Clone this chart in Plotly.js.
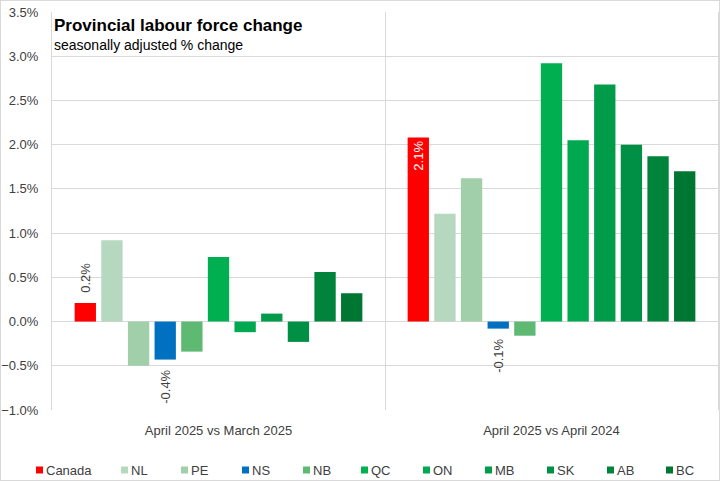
<!DOCTYPE html>
<html><head><meta charset="utf-8">
<script src="https://cdn.plot.ly/plotly-3.0.1.min.js"></script>
<style>html,body{margin:0;padding:0;background:#fff}#chart{width:718px;height:479px;border:1px solid #d9d9d9}</style>
</head><body><div id="chart"></div>
<script>
const categories = ["April 2025 vs March 2025", "April 2025 vs April 2024"];
const series = ["Canada","NL","PE","NS","NB","QC","ON","MB","SK","AB","BC"];
const canada = [0.21, 2.08];
const nl = [0.92, 1.22];
const pe = [-0.50, 1.62];
const ns = [-0.43, -0.08];
const nb = [-0.34, -0.16];
const qc = [0.73, 2.92];
const on = [-0.12, 2.05];
const mb = [0.09, 2.68];
const sk = [-0.23, 2.00];
const ab = [0.56, 1.87];
const bc = [0.32, 1.70];
const seriesValues = [canada, nl, pe, ns, nb, qc, on, mb, sk, ab, bc];

// styling
const colors = ["#FF0000","#B6D8BE","#A1CFAA","#0070C0","#5EBA72",
                "#00B050","#00A84F","#009C4A","#009045","#00843C","#007633"];
const labelPositions = {Canada: ["outside","inside"], NS: ["outside","outside"]};
const legendPx = [36, 121, 181, 242, 303, 361, 423, 485, 547, 607, 666]; // square left edge, image px
const FONT = "Liberation Sans, Arial, sans-serif";
const NB_SP = "\u00a0\u00a0";

const W = 718, H = 479, M = {l: 51, r: 1, t: 11, b: 70};
const PW = W - M.l - M.r, PH = H - M.t - M.b;
const px2x = px => (px - 1 - M.l) / PW;
const py2y = py => (H - M.b - (py - 1)) / PH;

const traces = series.map((s, i) => {
  const vals = seriesValues[i];
  const t = {
    type: "bar", name: s, x: categories, y: vals,
    marker: {color: colors[i]}, hoverinfo: "skip", showlegend: false
  };
  if (labelPositions[s]) {
    const pos = labelPositions[s];
    t.text = vals.map((v, k) => {
      const lbl = v.toFixed(1) + "%";
      if (pos[k] !== "outside") return lbl;
      return v >= 0 ? NB_SP + lbl : lbl + NB_SP;
    });
    t.textposition = pos;
    t.textangle = -90;
    t.insidetextanchor = "end";
    t.constraintext = "none";
    t.cliponaxis = false;
    t.insidetextfont = {color: "#ffffff", size: 13, family: FONT};
    t.outsidetextfont = {color: "#404040", size: 13, family: FONT};
  } else {
    t.textposition = "none";
  }
  return t;
});

const shapes = [];
const annotations = [
  {xref: "paper", yref: "paper", x: px2x(52), y: py2y(14), xanchor: "left", yanchor: "top",
   showarrow: false, align: "left",
   text: "<b>Provincial labour force change</b>",
   font: {family: FONT, size: 17, color: "#000"}},
  {xref: "paper", yref: "paper", x: px2x(52), y: py2y(35), xanchor: "left", yanchor: "top",
   showarrow: false, align: "left",
   text: "seasonally adjusted % change",
   font: {family: FONT, size: 14, color: "#000"}}
];
const legY = 470;
series.forEach((s, i) => {
  const x0 = legendPx[i];
  shapes.push({type: "rect", xref: "paper", yref: "paper",
    x0: px2x(x0), x1: px2x(x0 + 7), y0: py2y(legY - 3.5), y1: py2y(legY + 3.5),
    fillcolor: colors[i], line: {width: 0}, layer: "above"});
  annotations.push({xref: "paper", yref: "paper", x: px2x(x0 + 7.5), y: py2y(legY),
    xanchor: "left", yanchor: "middle", showarrow: false, text: s,
    font: {family: FONT, size: 13, color: "#404040"}});
});

const layout = {
  width: W, height: H, margin: M,
  paper_bgcolor: "#fff", plot_bgcolor: "#fff",
  barmode: "group", bargap: 0.12, bargroupgap: 0.2,
  font: {family: FONT, size: 13, color: "#404040"},
  showlegend: false,
  xaxis: {type: "category", tickson: "boundaries", showgrid: true, gridcolor: "#d9d9d9",
          ticks: "", showline: false, zeroline: false, ticklabelstandoff: 11,
          tickfont: {family: FONT, size: 13, color: "#404040"}},
  yaxis: {range: [-1, 3.5], dtick: 0.5, tick0: 0, tickformat: ".1f", ticksuffix: "%",
          showgrid: true, gridcolor: "#d9d9d9", zeroline: true, zerolinecolor: "#d9d9d9",
          zerolinewidth: 1, showline: true, mirror: true, linecolor: "#d9d9d9", linewidth: 1,
          ticks: "", ticklabelstandoff: 10,
          tickfont: {family: FONT, size: 13, color: "#404040"}},
  shapes: shapes,
  annotations: annotations
};
Plotly.newPlot("chart", traces, layout, {displayModeBar: false, staticPlot: true});
</script></body></html>
